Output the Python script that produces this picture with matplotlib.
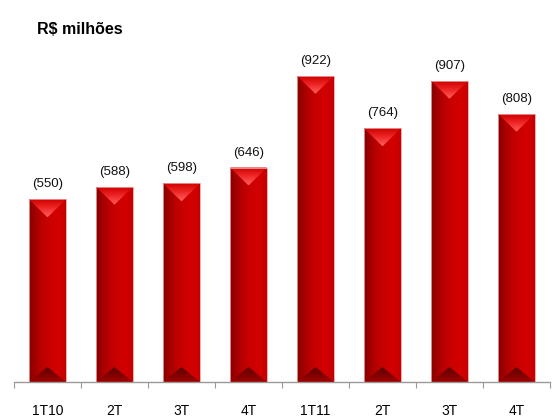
import numpy as np
import matplotlib.pyplot as plt
from matplotlib.patches import Polygon
from matplotlib.colors import LinearSegmentedColormap

plt.rcParams['font.family'] = ['Liberation Sans', 'DejaVu Sans']

categories = ['1T10', '2T', '3T', '4T', '1T11', '2T', '3T', '4T']
values = [550, 588, 598, 646, 922, 764, 907, 808]
labels = ['(550)', '(588)', '(598)', '(646)', '(922)', '(764)', '(907)', '(808)']

body_cmap = LinearSegmentedColormap.from_list(
    'body', ['#880000', '#a80000', '#c00000', '#cc0000', '#d40000', '#c40000'])
cap_cmap = LinearSegmentedColormap.from_list('cap', ['#ff6060', '#f02828', '#d00000'])
foot_cmap = LinearSegmentedColormap.from_list('foot', ['#5c0000', '#7e0000', '#a00000'])

fig = plt.figure(figsize=(5.55, 4.19), dpi=100)
ax = fig.add_axes([14 / 555, 37 / 419, 536 / 555, 332 / 419])

x = np.arange(len(categories))
width = 0.55
cap_h = 54
foot_h = 45

grad_x = np.linspace(0, 1, 64).reshape(1, -1)
grad_y = np.linspace(0, 1, 64).reshape(-1, 1)

bars = ax.bar(x, values, width=width, color='none', edgecolor='#e8a0a0',
              linewidth=0.6, zorder=3)
for xi, v, b in zip(x, values, bars):
    left, right = xi - width / 2, xi + width / 2
    im = ax.imshow(grad_x, cmap=body_cmap, aspect='auto',
                   extent=(left, right, 0, v), zorder=2)
    im.set_clip_path(b)

    # lighter chevron at the top, brightest at its tip
    cap = Polygon([(left, v), (right, v), (xi, v - cap_h)], closed=True,
                  facecolor='none', edgecolor='none')
    ax.add_patch(cap)
    im = ax.imshow(grad_y, cmap=cap_cmap, aspect='auto', origin='lower',
                   extent=(left, right, v - cap_h, v), zorder=2.5)
    im.set_clip_path(cap)

    # dark triangle at the base
    foot = Polygon([(left, 0), (right, 0), (xi, foot_h)], closed=True,
                   facecolor='none', edgecolor='none')
    ax.add_patch(foot)
    im = ax.imshow(grad_y, cmap=foot_cmap, aspect='auto', origin='upper',
                   extent=(left, right, 0, foot_h), zorder=2.5)
    im.set_clip_path(foot)

for xi, v, t in zip(x, values, labels):
    ax.annotate(t, (xi, v), xytext=(0, 6.5), textcoords='offset points',
                ha='center', va='bottom', fontsize=9.5, color='#111111')

ax.set_xlim(-0.5, len(categories) - 0.5)
ax.set_ylim(0, 1000)
ax.set_xticks(np.arange(len(categories) + 1) - 0.5)
ax.set_xticklabels([])
ax.set_xticks(x, minor=True)
ax.set_xticklabels(categories, minor=True, fontsize=10)
ax.tick_params(axis='x', which='major', length=4, color='#999999', direction='out')
ax.tick_params(axis='x', which='minor', length=0, pad=16)
ax.set_yticks([])
for side in ['left', 'right', 'top']:
    ax.spines[side].set_visible(False)
ax.spines['bottom'].set_color('#999999')
ax.spines['bottom'].set_linewidth(1.0)

fig.text(37 / 555, 1 - 30 / 419, 'R$ milhões', fontsize=11.5, fontweight='bold',
         ha='left', va='center')

fig.savefig('out.png', dpi=100)
